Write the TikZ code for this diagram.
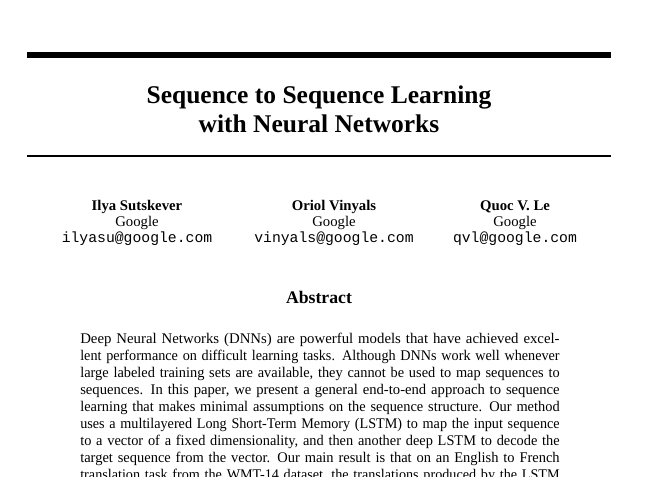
\documentclass[tikz,border=0pt]{standalone}
\usepackage{graphicx}
\usepackage{fontspec}
\setmainfont{Liberation Serif}
\setmonofont{Liberation Mono}
\usetikzlibrary{positioning}

% one justified line of the abstract, squeezed or stretched to the full width
\newcommand{\jline}[1]{\resizebox{\linewidth}{\height}{#1}}

\begin{document}
\begin{tikzpicture}[
    x=0.678pt,y=-0.678pt,
    font=\fontsize{10}{11}\selectfont,
    inner sep=0pt,
    author/.style={align=center,anchor=north},
    title/.style={align=center,anchor=north,font=\fontsize{17.28}{19.5}\selectfont\bfseries}
]
\useasboundingbox[fill=white] (0,0) rectangle (672,476);

\draw[line width=4pt] (27,55) -- (611,55);
\node[title] (title) at (319,86) {Sequence to Sequence Learning\\with Neural Networks};
\draw[line width=1pt] (27,156) -- (611,156);

\node[author] (ilya) at (137,200) {\textbf{Ilya Sutskever}\\Google\\\texttt{ilyasu@google.com}};
\node[author] (oriol) at (334,200) {\textbf{Oriol Vinyals}\\Google\\\texttt{vinyals@google.com}};
\node[author] (quoc) at (515,200) {\textbf{Quoc V. Le}\\Google\\\texttt{qvl@google.com}};

\node[anchor=base,font=\fontsize{12}{14}\selectfont\bfseries] (abshead) at (319,303) {Abstract};

\node[text width=325pt,align=left,anchor=north west,font=\fontsize{10}{11.5}\selectfont] (abstract) at (80,333) {%
\jline{Deep Neural Networks (DNNs) are powerful models that have achieved excel-}\\
\jline{lent performance on difficult learning tasks. Although DNNs work well whenever}\\
\jline{large labeled training sets are available, they cannot be used to map sequences to}\\
\jline{sequences. In this paper, we present a general end-to-end approach to sequence}\\
\jline{learning that makes minimal assumptions on the sequence structure. Our method}\\
\jline{uses a multilayered Long Short-Term Memory (LSTM) to map the input sequence}\\
\jline{to a vector of a fixed dimensionality, and then another deep LSTM to decode the}\\
\jline{target sequence from the vector. Our main result is that on an English to French}\\
\jline{translation task from the WMT-14 dataset, the translations produced by the LSTM}};
\end{tikzpicture}
\end{document}
